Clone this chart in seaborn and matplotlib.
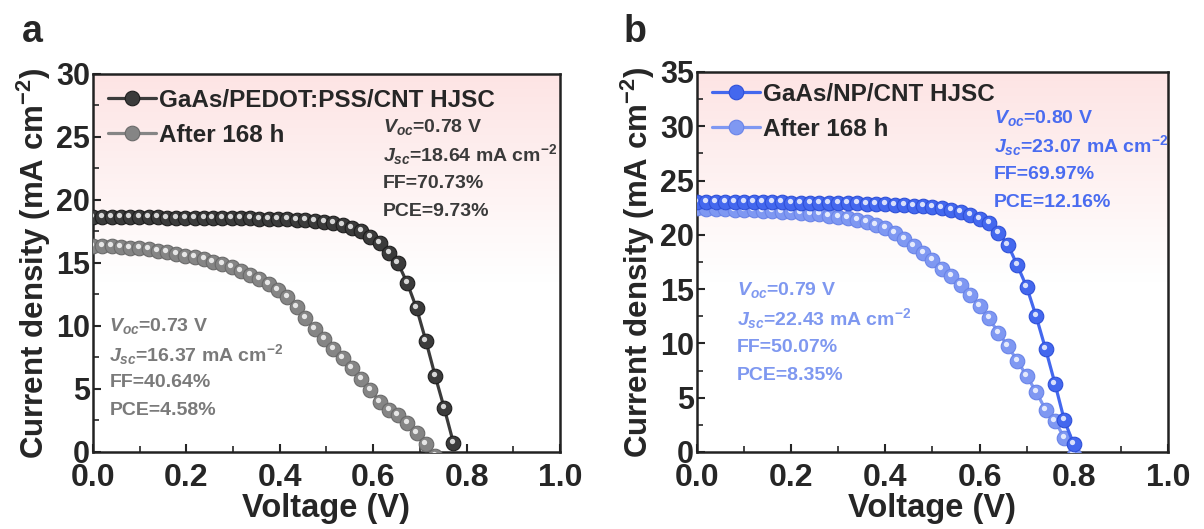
import numpy as np
import pandas as pd
import seaborn as sns
import matplotlib.pyplot as plt
from matplotlib.transforms import offset_copy

# voltage sweeps (V)
v_a = [0.000, 0.020, 0.040, 0.059, 0.079, 0.099, 0.119, 0.139, 0.158, 0.178,
       0.198, 0.218, 0.238, 0.257, 0.277, 0.297, 0.317, 0.337, 0.356, 0.376,
       0.396, 0.416, 0.436, 0.455, 0.475, 0.495, 0.515, 0.535, 0.554, 0.574,
       0.594, 0.614, 0.634, 0.653, 0.673, 0.693, 0.713, 0.733, 0.752, 0.772]
v_b = [0.00, 0.02, 0.04, 0.06, 0.08, 0.10, 0.12, 0.14, 0.16, 0.18,
       0.20, 0.22, 0.24, 0.26, 0.28, 0.30, 0.32, 0.34, 0.36, 0.38,
       0.40, 0.42, 0.44, 0.46, 0.48, 0.50, 0.52, 0.54, 0.56, 0.58,
       0.60, 0.62, 0.64, 0.66, 0.68, 0.70, 0.72, 0.74, 0.76, 0.78, 0.80]

# panel a: GaAs/PEDOT:PSS/CNT
j_pedot = [18.64, 18.64, 18.63, 18.63, 18.62, 18.62, 18.61, 18.61, 18.60, 18.60,
           18.59, 18.58, 18.58, 18.57, 18.56, 18.55, 18.54, 18.53, 18.52, 18.51,
           18.50, 18.47, 18.43, 18.38, 18.32, 18.25, 18.15, 18.00, 17.80, 17.50,
           17.10, 16.60, 15.80, 15.00, 13.40, 11.40, 8.80, 6.00, 3.50, 0.70]
j_pedot_168 = [16.37, 16.35, 16.32, 16.28, 16.22, 16.15, 16.07, 15.97, 15.85, 15.72,
               15.58, 15.45, 15.28, 15.10, 14.90, 14.65, 14.38, 14.05, 13.70, 13.30,
               12.85, 12.30, 11.50, 10.60, 9.75, 8.95, 8.20, 7.45, 6.65, 5.80,
               4.95, 4.00, 3.30, 2.95, 2.28, 1.48, 0.63, -0.30]

# panel b: GaAs/NP/CNT
j_np = [23.07, 23.06, 23.05, 23.04, 23.03, 23.02, 23.01, 23.00, 22.99, 22.98,
        22.97, 22.96, 22.95, 22.94, 22.93, 22.92, 22.91, 22.89, 22.87, 22.85,
        22.82, 22.79, 22.75, 22.70, 22.63, 22.55, 22.45, 22.30, 22.10, 21.85,
        21.50, 21.05, 20.20, 19.10, 17.20, 15.20, 12.50, 9.50, 6.30, 2.90, 0.70]
j_np_168 = [22.43, 22.41, 22.39, 22.36, 22.33, 22.30, 22.26, 22.22, 22.18, 22.13,
            22.08, 22.03, 21.96, 21.88, 21.78, 21.66, 21.52, 21.35, 21.15, 20.90,
            20.60, 20.20, 19.65, 18.95, 18.35, 17.65, 16.90, 16.20, 15.40, 14.45,
            13.45, 12.30, 11.00, 9.75, 8.40, 7.00, 5.55, 3.90, 2.85, 1.30, -0.30]

labels_a = ['GaAs/PEDOT:PSS/CNT HJSC', 'After 168 h']
labels_b = ['GaAs/NP/CNT HJSC', 'After 168 h']
params_a = [['$V_{oc}$=0.78 V', '$J_{sc}$=18.64 mA cm$^{-2}$', 'FF=70.73%', 'PCE=9.73%'],
            ['$V_{oc}$=0.73 V', '$J_{sc}$=16.37 mA cm$^{-2}$', 'FF=40.64%', 'PCE=4.58%']]
params_b = [['$V_{oc}$=0.80 V', '$J_{sc}$=23.07 mA cm$^{-2}$', 'FF=69.97%', 'PCE=12.16%'],
            ['$V_{oc}$=0.79 V', '$J_{sc}$=22.43 mA cm$^{-2}$', 'FF=50.07%', 'PCE=8.35%']]

sns.set_style('ticks')
plt.rcParams['font.family'] = ['Liberation Sans', 'DejaVu Sans']
plt.rcParams['font.weight'] = 'bold'
plt.rcParams['mathtext.fontset'] = 'custom'
plt.rcParams['mathtext.rm'] = 'Liberation Sans:bold'
plt.rcParams['mathtext.it'] = 'Liberation Sans:bold:italic'
plt.rcParams['mathtext.bf'] = 'Liberation Sans:bold'

fig = plt.figure(figsize=(12.04, 5.29), dpi=100)
ax_a = fig.add_axes([0.0772, 0.1456, 0.3879, 0.7146])
ax_b = fig.add_axes([0.5789, 0.1456, 0.3912, 0.7183])

# pink-to-white background
grad = np.linspace(0, 1, 256).reshape(-1, 1)
top = np.array([253, 228, 228]) / 255
bg = np.ones((256, 1, 3))
w = np.clip((grad - 0.45) / 0.55, 0, 1)
bg[:, 0, :] = 1 - w * (1 - top)


def draw(ax, v1, j1, v2, j2, labels, c1, e1, c2, e2, params, tcols, ppos, dy, ymax, legy):
    ax.imshow(bg, extent=[0, 1, 0, 1], transform=ax.transAxes, aspect='auto',
              origin='lower', zorder=0)
    d1 = pd.DataFrame({'V': v1, 'J': j1})
    d2 = pd.DataFrame({'V': v2, 'J': j2})
    for d, c, e, lab, z in [(d1, c1, e1, labels[0], 4), (d2, c2, e2, labels[1], 3)]:
        sns.lineplot(data=d, x='V', y='J', ax=ax, color=c, lw=2.3, marker='o', ms=10.5,
                     mfc=c, mec=e, mew=0.8, label=lab, zorder=z)
        hl = offset_copy(ax.transData, fig=fig, x=-1.5, y=2.0, units='dots')
        ax.plot(d['V'], d['J'], ls='none', marker='o', ms=3.8, mfc='white', mec='none',
                alpha=0.8, transform=hl, zorder=z + 0.5)
    ax.set_xlim(0, 1.0)
    ax.set_ylim(0, ymax)
    ax.set_xticks(np.arange(0, 1.01, 0.2))
    ax.set_xticks(np.arange(0.1, 1.0, 0.2), minor=True)
    ax.set_yticks(np.arange(0, ymax + 0.1, 5))
    ax.set_yticks(np.arange(2.5, ymax, 5), minor=True)
    ax.set_xticklabels(['0.0', '0.2', '0.4', '0.6', '0.8', '1.0'])
    ax.tick_params(which='major', direction='in', length=6, width=1.5)
    ax.tick_params(axis='x', which='major', pad=8, labelsize=23)
    ax.tick_params(axis='y', which='major', pad=2, labelsize=22)
    ax.tick_params(which='minor', direction='in', length=4, width=1.2)
    for lbl in ax.get_xticklabels() + ax.get_yticklabels():
        lbl.set_fontweight('bold')
    for s in ax.spines.values():
        s.set_linewidth(1.8)
        s.set_color('#222222')
    ax.set_xlabel('Voltage (V)', fontsize=23.5, fontweight='bold', labelpad=0)
    ax.set_ylabel('Current density (mA cm$^{-2}$)', fontsize=22.5, fontweight='bold',
                  labelpad=2)
    ax.legend(loc='upper left', bbox_to_anchor=(0.0, legy), frameon=False,
              prop={'size': 17.5, 'weight': 'bold'}, handlelength=2.0,
              handletextpad=0.1, labelspacing=0.5, borderaxespad=0.2)
    for (x0, y0), lines, col in zip(ppos, params, tcols):
        for i, line in enumerate(lines):
            ax.text(x0, y0 - i * dy, line, color=col, fontsize=14, fontweight='bold',
                    va='center', ha='left', zorder=6)


draw(ax_a, v_a, j_pedot, v_a[:38], j_pedot_168, labels_a,
     '#3b3b3b', '#1e1e1e', '#858585', '#6a6a6a', params_a,
     ['#3a3a3a', '#7a7a7a'], [(0.62, 25.8), (0.035, 10.0)], 2.23, 30, 1.0)
draw(ax_b, v_b, j_np, v_b, j_np_168, labels_b,
     '#4468ee', '#2f50d8', '#7f98f2', '#6a84e8', params_b,
     ['#4a6cf0', '#7f98f0'], [(0.63, 30.8), (0.085, 14.9)], 2.62, 35, 1.01)

fig.text(0.018, 0.94, 'a', fontsize=27, fontweight='bold', va='center')
fig.text(0.518, 0.94, 'b', fontsize=27, fontweight='bold', va='center')

fig.savefig('out.png', dpi=100)
